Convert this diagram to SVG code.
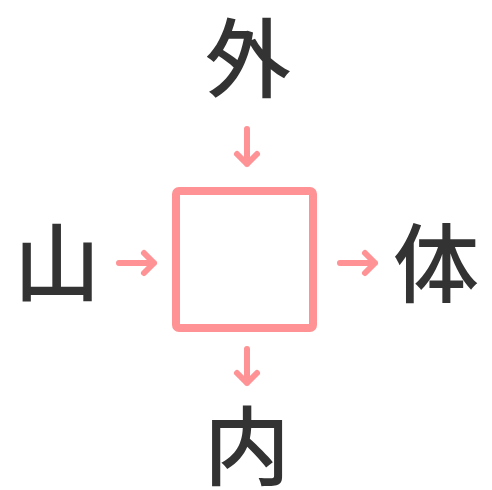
<svg xmlns="http://www.w3.org/2000/svg" width="492" height="490" viewBox="0 0 492 490">
<style>
.k{font-family:"Noto Sans CJK JP","Noto Sans CJK SC",sans-serif;font-size:86px;font-weight:500;fill:#333333;text-anchor:middle;dominant-baseline:central}
.a{fill:none;stroke:#FF9294;stroke-width:6;stroke-linecap:round;stroke-linejoin:round}
</style>
<rect width="492" height="490" fill="#ffffff"/>
<g id="box"><rect x="176" y="191" width="137" height="137" rx="3" fill="none" stroke="#FF9294" stroke-width="8"/></g>
<g id="n-top"><text class="k" x="248" y="53">外</text></g>
<g id="n-left"><text class="k" x="57" y="257">山</text></g>
<g id="n-right"><text class="k" x="436" y="258">体</text></g>
<g id="n-bottom"><text class="k" x="247" y="441">内</text></g>
<g id="connectors">
<path class="a" d="M247 129V164M237 154L247 164L257 154"/>
<path class="a" d="M119 263H154M144 253L154 263L144 273"/>
<path class="a" d="M340 263H375M365 253L375 263L365 273"/>
<path class="a" d="M247 349V383M237 373L247 383L257 373"/>
</g>
</svg>
